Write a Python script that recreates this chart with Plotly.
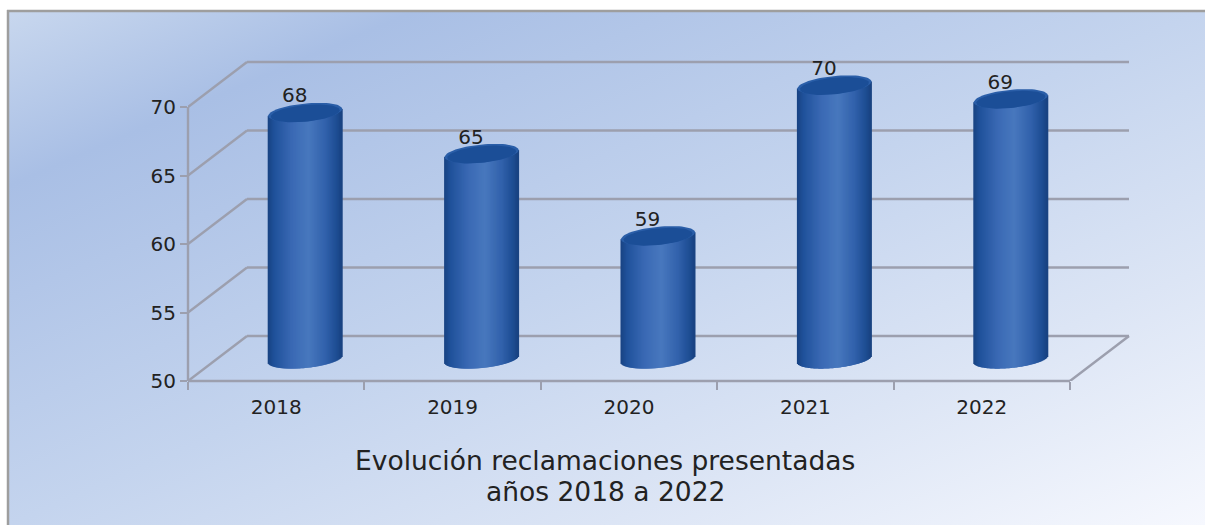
import base64
import math
import plotly.graph_objects as go

# ---------- data ----------
years = ["2018", "2019", "2020", "2021", "2022"]
reclamaciones = [68, 65, 59, 70, 69]
value_ticks = [50, 55, 60, 65, 70]
title_lines = ["Evolución reclamaciones presentadas", "años 2018 a 2022"]

# ---------- geometry (pixels of the reference) ----------
W, H = 1205, 525
LEFT, FLOOR, RIGHT_EDGE, TOP_EDGE = 188, 381, 1135, 50
CAT_PX = 176.4
VAL_PX = 13.7
DEPTH_X, DEPTH_Y = 59.0, 45.0
dx = DEPTH_X / CAT_PX
dy = DEPTH_Y / VAL_PX
x_lo = -0.5
x_hi = x_lo + (RIGHT_EDGE - LEFT) / CAT_PX
x_front_end = len(years) - 0.5
y_lo = value_ticks[0]
y_hi = y_lo + (FLOOR - TOP_EDGE) / VAL_PX

BAR_HALF = 37.0 / CAT_PX
CAP_B = 9.0 / VAL_PX
CAP_TILT = 3.5 / VAL_PX
OFF_X = 29.0 / CAT_PX
OFF_Y = 22.0 / VAL_PX

GRID = "#9c9fae"
TEXT = "#222222"
FONT = "DejaVu Sans"

def mix(c1, c2, t):
    return tuple(c1[i] + (c2[i] - c1[i]) * t for i in range(3))

def hexc(c):
    return "#%02x%02x%02x" % tuple(int(round(v)) for v in c)

# body shading across the cylinder: (position, colour)
shade = [(-1.0, (24, 66, 130)), (-0.82, (32, 82, 155)), (-0.35, (58, 105, 180)),
         (0.1, (72, 120, 190)), (0.55, (50, 98, 172)), (0.85, (30, 78, 148)), (1.0, (24, 66, 128))]

def shade_at(u):
    for (a, ca), (b, cb) in zip(shade, shade[1:]):
        if a <= u <= b:
            return mix(ca, cb, (u - a) / (b - a))
    return shade[-1][1]

positions = list(range(len(years)))
fig = go.Figure()

# cylinder bodies: one bar trace per vertical slice of the shading
N = 74
slice_w = 2 * BAR_HALF / N
for k in range(N):
    u = -1 + (k + 0.5) * 2 / N
    sag = CAP_B * math.sqrt(max(0, 1 - u * u))
    tilt = u * CAP_TILT
    base = y_lo + OFF_Y - sag + tilt
    fig.add_trace(go.Bar(
        x=[p + OFF_X + u * BAR_HALF for p in positions],
        y=[v - y_lo + sag for v in reclamaciones],
        base=[base] * len(reclamaciones),
        width=slice_w * 2,
        marker=dict(color=hexc(shade_at(u)), line=dict(width=0)),
        hoverinfo="skip", showlegend=False,
    ))

# cylinder tops
for p, v in zip(positions, reclamaciones):
    ang = [i * 2 * math.pi / 72 for i in range(73)]
    cy = v + OFF_Y
    for scale, shift, col in [(1.0, 0.0, "#2a5ea8"), (0.93, -1.0 / VAL_PX, "#1b4e97")]:
        fig.add_trace(go.Scatter(
            x=[p + OFF_X + scale * BAR_HALF * math.cos(a) for a in ang],
            y=[cy + shift - scale * CAP_B * math.sin(a) + CAP_TILT * math.cos(a) * scale for a in ang],
            mode="lines", fill="toself", fillcolor=col, line=dict(width=0),
            hoverinfo="skip", showlegend=False,
        ))

# value labels
fig.add_trace(go.Scatter(
    x=[p + OFF_X - 10.5 / CAT_PX for p in positions],
    y=[v + OFF_Y + 15 / VAL_PX for v in reclamaciones],
    mode="text", text=[str(v) for v in reclamaciones],
    textposition="middle center",
    textfont=dict(family=FONT, size=20, color=TEXT),
    hoverinfo="skip", showlegend=False, cliponaxis=False,
))

# ---------- frame of the pseudo-3D walls ----------
shapes = []
def seg(x0, y0, x1, y1, width=2.4, color=GRID):
    shapes.append(dict(type="line", xref="x", yref="y", x0=x0, y0=y0, x1=x1, y1=y1,
                       layer="below", line=dict(color=color, width=width)))

for t in value_ticks:
    seg(x_lo, t, x_lo + dx, t + dy)
    seg(x_lo + dx, t + dy, x_front_end + dx, t + dy)
seg(x_front_end, value_ticks[0], x_front_end + dx, value_ticks[0] + dy)

# front axis lines, in figure coordinates so the plot edge does not clip them
front_right = LEFT + len(years) * CAT_PX
top_tick = FLOOR - (value_ticks[-1] - value_ticks[0]) * VAL_PX
for x0, y0, x1, y1 in [(LEFT, top_tick, LEFT, FLOOR), (LEFT, FLOOR, front_right, FLOOR)]:
    shapes.append(dict(type="line", xref="paper", yref="paper",
                       x0=x0 / W, x1=x1 / W, y0=1 - y0 / H, y1=1 - y1 / H,
                       layer="below", line=dict(color=GRID, width=2.4)))

# panel border: top and left only
for x0, y0, x1, y1 in [(7, 11, W, 11), (8, 10, 8, H)]:
    shapes.append(dict(type="line", xref="paper", yref="paper",
                       x0=x0 / W, x1=x1 / W, y0=1 - y0 / H, y1=1 - y1 / H,
                       layer="above", line=dict(color="#9e9e9e", width=2.5)))

# ---------- background gradient ----------
svg = f"""<svg xmlns="http://www.w3.org/2000/svg" width="{W}" height="{H}">
<defs><linearGradient id="g" x1="0" y1="0" x2="1" y2="1">
<stop offset="0" stop-color="#c8d7ee"/>
<stop offset="0.17" stop-color="#a9bfe5"/>
<stop offset="0.5" stop-color="#c4d4ee"/>
<stop offset="0.75" stop-color="#dce5f5"/>
<stop offset="1" stop-color="#f6f8fe"/>
</linearGradient></defs>
<rect x="8" y="11" width="{W-8}" height="{H-11}" fill="url(#g)"/>
</svg>"""
bg = "data:image/svg+xml;base64," + base64.b64encode(svg.encode()).decode()

fig.update_layout(
    width=W, height=H, autosize=False,
    margin=dict(l=0, r=0, t=0, b=0, autoexpand=False),
    paper_bgcolor="white", plot_bgcolor="rgba(0,0,0,0)",
    barmode="overlay", showlegend=False, shapes=shapes,
    images=[dict(source=bg, xref="paper", yref="paper", x=0, y=1, sizex=1, sizey=1,
                 sizing="stretch", xanchor="left", yanchor="top", layer="below")],
    xaxis=dict(
        domain=[LEFT / W, RIGHT_EDGE / W], range=[x_lo, x_hi], showgrid=False, zeroline=False,
        automargin=False,
        showline=False, tickmode="array", tickvals=positions, ticktext=years, ticks="",
        ticklabelstandoff=12, tickfont=dict(family=FONT, size=20, color=TEXT),
        minor=dict(tickmode="array", tickvals=[p - 0.5 for p in positions] + [x_front_end],
                   ticks="outside", ticklen=8, tickwidth=2, tickcolor=GRID, showgrid=False),
    ),
    yaxis=dict(
        domain=[1 - FLOOR / H, 1 - TOP_EDGE / H], range=[y_lo, y_hi], showgrid=False, zeroline=False,
        automargin=False,
        showline=False, tickmode="array", tickvals=value_ticks, ticks="outside", ticklen=7,
        tickwidth=2, tickcolor=GRID, tickfont=dict(family=FONT, size=20, color=TEXT),
    ),
    annotations=[
        dict(text=line, xref="paper", yref="paper", x=605 / W, y=1 - py / H,
             xanchor="center", yanchor="middle", showarrow=False, align="center",
             font=dict(family=FONT, size=26.5, color=TEXT))
        for line, py in zip(title_lines, [461, 491])
    ],
)

fig.write_html("out.html", config=dict(displayModeBar=False),
               post_script="document.body.style.margin='0';document.body.style.overflow='hidden';")
